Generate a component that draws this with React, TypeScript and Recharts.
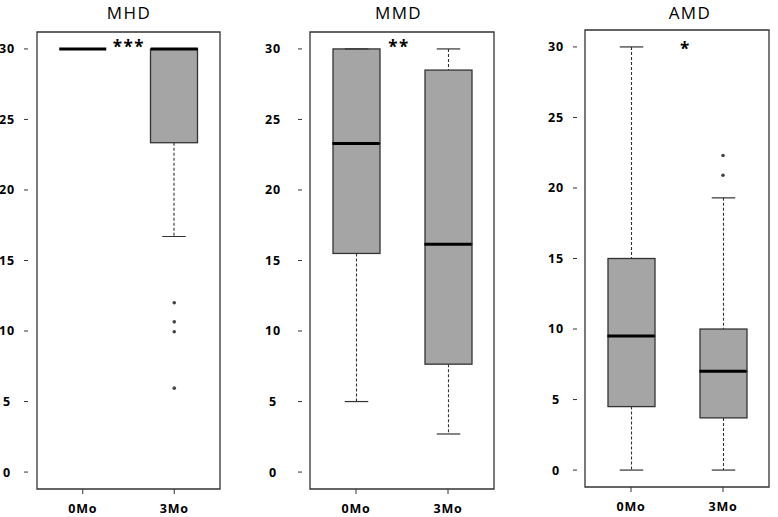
import React from 'react';
import { ComposedChart, Bar, Line, XAxis, YAxis, ReferenceArea } from 'recharts';

// ---------- data ----------
const CATEGORIES = ['0Mo', '3Mo'];
const Y_TICKS = [0, 5, 10, 15, 20, 25, 30];
const Y_DOMAIN: [number, number] = [-1.2, 31.2];

const TITLES = ['MHD', 'MMD', 'AMD'];
const SIGNIFICANCE = ['***', '**', '*'];

// MHD
const MHD_MIN = [30, 16.7];
const MHD_Q1 = [30, 23.35];
const MHD_MEDIAN = [30, 30];
const MHD_Q3 = [30, 30];
const MHD_MAX = [30, 30];
const MHD_OUTLIERS = [[], [12, 10.65, 9.95, 5.95]];

// MMD
const MMD_MIN = [5, 2.7];
const MMD_Q1 = [15.5, 7.65];
const MMD_MEDIAN = [23.3, 16.15];
const MMD_Q3 = [30, 28.5];
const MMD_MAX = [30, 30];
const MMD_OUTLIERS = [[], []];

// AMD
const AMD_MIN = [0, 0];
const AMD_Q1 = [4.5, 3.7];
const AMD_MEDIAN = [9.5, 7.0];
const AMD_Q3 = [15, 10];
const AMD_MAX = [30, 19.3];
const AMD_OUTLIERS = [[], [20.9, 22.3]];

// ---------- helpers ----------
function buildRows(min: number[], q1: number[], med: number[], q3: number[], max: number[], outliers: number[][]) {
  return CATEGORIES.map((cat, i) => {
    const row: any = {
      cat,
      base: min[i],
      lw: q1[i] - min[i],
      lb: med[i] - q1[i],
      ub: q3[i] - med[i],
      uw: max[i] - q3[i],
      median: med[i],
    };
    outliers[i].forEach((v, k) => {
      row['o' + k] = v;
    });
    return row;
  });
}

const PANELS = [
  { rows: buildRows(MHD_MIN, MHD_Q1, MHD_MEDIAN, MHD_Q3, MHD_MAX, MHD_OUTLIERS), nOut: 4 },
  { rows: buildRows(MMD_MIN, MMD_Q1, MMD_MEDIAN, MMD_Q3, MMD_MAX, MMD_OUTLIERS), nOut: 0 },
  { rows: buildRows(AMD_MIN, AMD_Q1, AMD_MEDIAN, AMD_Q3, AMD_MAX, AMD_OUTLIERS), nOut: 2 },
];

// layout (not data)
const LAYOUT = [
  { left: 0, width: 260, top: 32, bottom: 0, yw: 28, right: 31, pad: 9, ytm: 17 },
  { left: 255, width: 260, top: 32, bottom: 0, yw: 47, right: 13, pad: 8, ytm: 25 },
  { left: 520, width: 258, top: 30, bottom: 2, yw: 57, right: 1, pad: 8, ytm: 17 },
];
const TITLE_X = [129, 398.5, 690];
const STAR_X = [129, 399, 685.5];
const STAR_Y = [53, 53, 55];

const BAR_SIZE = 47;
const STROKE = '#333';
const FILL = '#a5a5a5';
const FONT = "'Open Sans', 'Liberation Sans', sans-serif";

const Empty = () => <g />;

const LowerWhisker = (p: any) => {
  const { x, y, width, height } = p;
  if (x == null || y == null) return <g />;
  const cx = x + width / 2;
  const cap = width / 4;
  return (
    <g>
      <line x1={cx} x2={cx} y1={y} y2={y + height} stroke={STROKE} strokeWidth={1.1} strokeDasharray="3 2" />
      <line x1={cx - cap} x2={cx + cap} y1={y + height} y2={y + height} stroke={STROKE} strokeWidth={1.2} />
    </g>
  );
};

const UpperWhisker = (p: any) => {
  const { x, y, width, height } = p;
  if (x == null || y == null) return <g />;
  const cx = x + width / 2;
  const cap = width / 4;
  return (
    <g>
      <line x1={cx} x2={cx} y1={y} y2={y + height} stroke={STROKE} strokeWidth={1.1} strokeDasharray="3 2" />
      <line x1={cx - cap} x2={cx + cap} y1={y} y2={y} stroke={STROKE} strokeWidth={1.2} />
    </g>
  );
};

const BoxPart = (p: any) => {
  const { x, y, width, height } = p;
  if (x == null || y == null) return <g />;
  return <rect x={x} y={y} width={width} height={Math.max(0, height)} fill={FILL} stroke={STROKE} strokeWidth={1.3} />;
};

const MedianDot = (p: any) => {
  const { cx, cy, index } = p;
  if (cx == null || cy == null || p.value == null) return <g key={'m' + index} />;
  return (
    <line key={'m' + index} x1={cx - BAR_SIZE / 2} x2={cx + BAR_SIZE / 2} y1={cy} y2={cy} stroke="#000" strokeWidth={3} />
  );
};

const tickStyle = { fill: '#000', fontSize: 12.5, fontWeight: 700, fontFamily: FONT, letterSpacing: 0.8 };

function Panel({ idx }: { idx: number }) {
  const L = LAYOUT[idx];
  const P = PANELS[idx];
  const outKeys = Array.from({ length: P.nOut }, (_, k) => 'o' + k);
  return (
    <div style={{ position: 'absolute', left: L.left, top: 0, width: L.width, height: 517 }}>
      <ComposedChart
        width={L.width}
        height={517}
        data={P.rows}
        margin={{ top: L.top, right: L.right, bottom: L.bottom, left: 0 }}
        barSize={BAR_SIZE}
      >
        <XAxis
          dataKey="cat"
          type="category"
          padding={{ left: L.pad, right: L.pad }}
          height={28}
          tickSize={5}
          tickMargin={10}
          axisLine={false}
          tickLine={{ stroke: STROKE }}
          tick={tickStyle}
          interval={0}
        />
        <YAxis
          type="number"
          domain={Y_DOMAIN}
          ticks={Y_TICKS}
          allowDataOverflow
          width={L.yw}
          tickSize={4}
          tickMargin={L.ytm}
          axisLine={false}
          tickLine={{ stroke: STROKE }}
          tick={{ ...tickStyle, textAnchor: 'middle' }}
          interval={0}
        />
        <Bar dataKey="base" stackId="s" shape={Empty} isAnimationActive={false} />
        <Bar dataKey="lw" stackId="s" shape={LowerWhisker} isAnimationActive={false} />
        <Bar dataKey="lb" stackId="s" shape={BoxPart} isAnimationActive={false} />
        <Bar dataKey="ub" stackId="s" shape={BoxPart} isAnimationActive={false} />
        <Bar dataKey="uw" stackId="s" shape={UpperWhisker} isAnimationActive={false} />
        <Line
          dataKey="median"
          stroke="none"
          dot={MedianDot}
          activeDot={false}
          isAnimationActive={false}
        />
        {outKeys.map((k) => (
          <Line
            key={k}
            dataKey={k}
            stroke="none"
            dot={{ r: 1.8, fill: '#444', stroke: 'none' }}
            activeDot={false}
            isAnimationActive={false}
          />
        ))}
        <ReferenceArea y1={Y_DOMAIN[0]} y2={Y_DOMAIN[1]} fill="none" fillOpacity={0} stroke={STROKE} strokeWidth={1.3} ifOverflow="visible" />
      </ComposedChart>
    </div>
  );
}

export default function App() {
  return (
    <div style={{ position: 'absolute', left: 0, top: 0, width: 778, height: 517, background: '#fff', overflow: 'hidden' }}>
      {PANELS.map((_, i) => (
        <Panel key={i} idx={i} />
      ))}
      <svg width={778} height={517} style={{ position: 'absolute', left: 0, top: 0, pointerEvents: 'none' }}>
        {TITLES.map((t, i) => (
          <text key={t} x={TITLE_X[i]} y={18.5} textAnchor="middle" fontFamily={FONT} fontWeight={500} fontSize={17} letterSpacing={1.4} fill="#000">
            {t}
          </text>
        ))}
        {SIGNIFICANCE.map((s, i) => (
          <text key={i} x={STAR_X[i]} y={STAR_Y[i]} textAnchor="middle" fontFamily={FONT} fontWeight={700} fontSize={17} letterSpacing={1.5} fill="#000">
            {s}
          </text>
        ))}
      </svg>
    </div>
  );
}
